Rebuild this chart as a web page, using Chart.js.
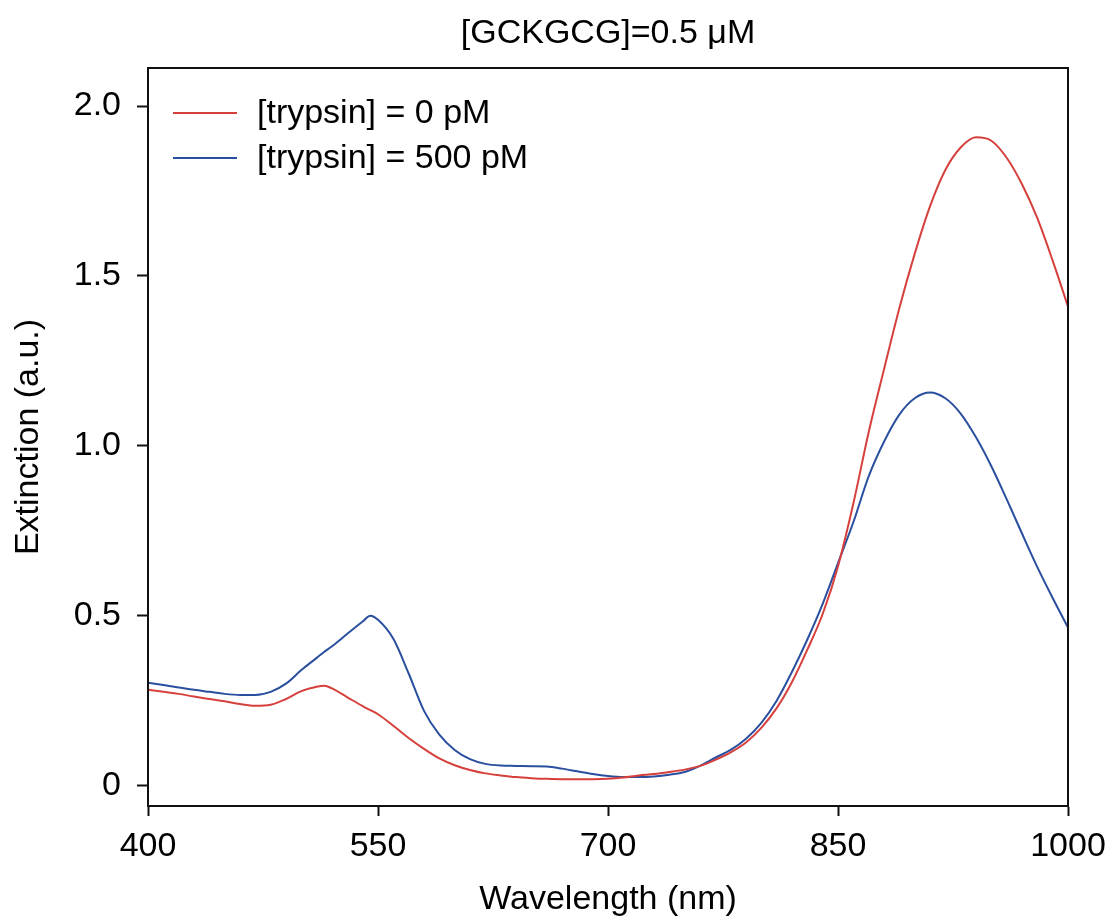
<!DOCTYPE html>
<html>
<head>
<meta charset="utf-8">
<script src="https://cdn.jsdelivr.net/npm/chart.js@4.4.1/dist/chart.umd.min.js"></script>
<style>
  html, body { margin: 0; padding: 0; background: #ffffff; }
  #wrap { width: 1110px; height: 922px; position: relative; }
</style>
</head>
<body>
<div id="wrap"><canvas id="c" width="1110" height="922"></canvas></div>
<script>
// ---- data ----
const chartTitle = "[GCKGCG]=0.5 μM";
const xTitle = "Wavelength (nm)";
const yTitle = "Extinction (a.u.)";
const seriesNames = ["[trypsin] = 0 pM", "[trypsin] = 500 pM"];
const wavelengths = [400,410,420,430,440,450,460,470,480,490,500,510,515,520,530,540,545,550,560,570,580,590,600,610,620,630,640,650,660,670,680,690,700,710,720,730,740,750,760,770,780,790,800,810,820,830,840,850,860,870,880,890,900,910,920,930,940,950,960,970,980,990,1000];
const trypsin0 = [0.282,0.276,0.270,0.262,0.255,0.248,0.240,0.235,0.238,0.255,0.278,0.291,0.294,0.286,0.260,0.234,0.222,0.210,0.176,0.140,0.108,0.080,0.060,0.046,0.036,0.030,0.025,0.022,0.020,0.019,0.019,0.019,0.020,0.024,0.030,0.034,0.040,0.047,0.058,0.076,0.098,0.127,0.170,0.228,0.305,0.400,0.505,0.645,0.830,1.040,1.225,1.405,1.565,1.705,1.812,1.878,1.908,1.898,1.848,1.770,1.670,1.545,1.410];
const trypsin500 = [0.303,0.296,0.289,0.282,0.276,0.270,0.267,0.267,0.276,0.300,0.340,0.376,0.394,0.410,0.447,0.483,0.500,0.488,0.432,0.330,0.220,0.150,0.105,0.078,0.064,0.059,0.058,0.057,0.056,0.050,0.042,0.034,0.028,0.025,0.025,0.027,0.032,0.040,0.058,0.082,0.105,0.138,0.185,0.250,0.335,0.430,0.535,0.655,0.775,0.910,1.012,1.092,1.140,1.157,1.140,1.095,1.025,0.940,0.843,0.742,0.643,0.552,0.465];
const xTicks = [400,550,700,850,1000];
const yTicks = [0,0.5,1.0,1.5,2.0];
const seriesColors = ["#d6403c", "#2a4f9f"];

const FONT = "'Liberation Sans', Arial, Helvetica, sans-serif";
const FS = 34;

const framePlugin = {
  id: 'frameAndText',
  afterDraw(chart) {
    const {ctx, chartArea: a} = chart;
    ctx.save();
    // frame
    ctx.strokeStyle = '#111';
    ctx.lineWidth = 2;
    ctx.strokeRect(a.left, a.top, a.right - a.left, a.bottom - a.top);
    // title
    ctx.fillStyle = '#000';
    ctx.font = `${FS}px ${FONT}`;
    ctx.textAlign = 'center';
    ctx.textBaseline = 'middle';
    ctx.fillText(chartTitle, (a.left + a.right) / 2, 34);
    // legend
    ctx.font = `${FS}px ${FONT}`;
    ctx.textAlign = 'left';
    chart.data.datasets.forEach((ds, i) => {
      const y = 113 + 45 * i;
      ctx.strokeStyle = ds.borderColor;
      ctx.lineWidth = 2;
      ctx.beginPath();
      ctx.moveTo(173, y);
      ctx.lineTo(237, y);
      ctx.stroke();
      ctx.fillStyle = '#000';
      ctx.fillText(ds.label, 257, y + 1);
    });
    ctx.restore();
  }
};

const mk = (arr) => wavelengths.map((w, i) => ({x: w, y: arr[i]}));

new Chart(document.getElementById('c'), {
  type: 'line',
  data: {
    datasets: [
      { label: seriesNames[0], data: mk(trypsin0), borderColor: seriesColors[0], borderWidth: 2, pointRadius: 0, cubicInterpolationMode: 'monotone', fill: false },
      { label: seriesNames[1], data: mk(trypsin500), borderColor: seriesColors[1], borderWidth: 2, pointRadius: 0, cubicInterpolationMode: 'monotone', fill: false }
    ]
  },
  options: {
    responsive: false,
    animation: false,
    layout: { padding: { top: 68, right: 42, left: 0, bottom: 0 } },
    plugins: { legend: { display: false }, title: { display: false }, tooltip: { enabled: false } },
    scales: {
      x: {
        type: 'linear', min: 400, max: 1000,
        afterBuildTicks: (s) => { s.ticks = xTicks.map(v => ({value: v})); },
        afterFit: (s) => { s.height = 922 - 806; s.paddingLeft = 0; s.paddingRight = 0; },
        grid: { drawOnChartArea: false, drawTicks: true, tickLength: 10, color: '#111', tickWidth: 2 },
        border: { display: true, color: '#111', width: 2 },
        ticks: { color: '#000', font: { family: FONT, size: FS }, padding: 10, maxRotation: 0, callback: (v) => String(v) },
        title: { display: true, text: xTitle, color: '#000', font: { family: FONT, size: FS }, padding: { top: 0, bottom: 2 } }
      },
      y: {
        type: 'linear', min: -0.06, max: 2.112,
        afterBuildTicks: (s) => { s.ticks = yTicks.map(v => ({value: v})); },
        afterFit: (s) => { s.width = 148; s.paddingTop = 0; s.paddingBottom = 0; },
        grid: { drawOnChartArea: false, drawTicks: true, tickLength: 11, color: '#111', tickWidth: 2 },
        border: { display: true, color: '#111', width: 2 },
        ticks: { color: '#000', font: { family: FONT, size: FS }, padding: 16, callback: (v) => v === 0 ? '0' : v.toFixed(1) },
        title: { display: true, text: yTitle, color: '#000', font: { family: FONT, size: FS }, padding: { top: 8, bottom: 0 } }
      }
    }
  },
  plugins: [framePlugin]
});
</script>
</body>
</html>
